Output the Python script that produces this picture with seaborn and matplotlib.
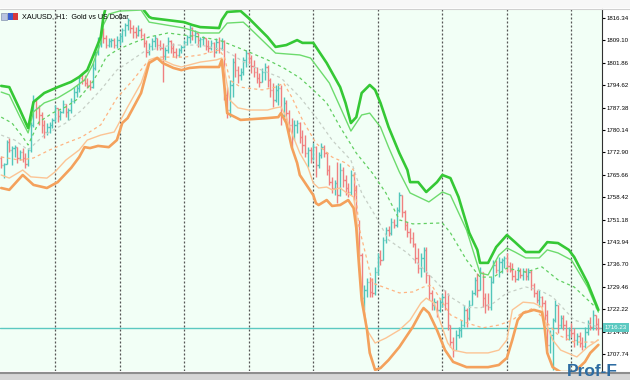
import numpy as np
import matplotlib
matplotlib.use("Agg")
import matplotlib.pyplot as plt
import seaborn as sns
from matplotlib.patches import Rectangle
from matplotlib.lines import Line2D

# ---------------- data ----------------
title = "XAUUSD, H1:  Gold vs US Dollar"
first_open = 1771.1
highs = [
    1771.7, 1769.5, 1776.9, 1777.6, 1775.0, 1775.3, 1774.6, 1773.7, 1774.3, 1772.7,
    1774.3, 1782.7, 1791.5, 1789.8, 1788.2, 1786.0, 1783.4, 1782.4, 1782.7, 1784.0,
    1788.2, 1787.3, 1786.6, 1789.8, 1788.6, 1787.3, 1790.5, 1794.0, 1794.7, 1797.6,
    1798.6, 1797.9, 1797.0, 1796.3, 1801.8, 1806.0, 1810.2, 1812.5, 1813.1, 1810.8,
    1809.9, 1809.9, 1809.9, 1810.5, 1811.5, 1813.1, 1814.7, 1816.3, 1815.7, 1814.1,
    1813.4, 1814.1, 1813.1, 1811.5, 1809.2, 1808.3, 1809.9, 1810.8, 1809.9, 1809.2,
    1808.3, 1807.0, 1810.2, 1809.2, 1808.3, 1806.6, 1806.6, 1807.6, 1809.2, 1810.8,
    1814.1, 1813.4, 1812.5, 1811.5, 1810.2, 1810.5, 1809.9, 1809.2, 1809.2, 1808.6,
    1809.9, 1810.2, 1809.9, 1809.2, 1794.0, 1796.3, 1803.4, 1805.0, 1800.8, 1800.2,
    1803.7, 1806.0, 1805.4, 1804.4, 1802.8, 1800.5, 1798.6, 1800.2, 1801.8, 1801.2,
    1797.0, 1795.3, 1794.7, 1795.3, 1794.7, 1790.8, 1789.8, 1786.6, 1784.0, 1783.4,
    1783.4, 1782.7, 1780.1, 1778.5, 1774.6, 1774.6, 1775.9, 1775.0, 1773.0, 1775.9,
    1775.3, 1773.0, 1768.8, 1765.0, 1764.0, 1769.8, 1769.5, 1768.2, 1765.6, 1763.0,
    1767.2, 1766.6, 1762.4, 1751.1, 1740.4, 1730.0, 1732.3, 1732.6, 1732.3, 1735.9,
    1740.4, 1741.4, 1745.6, 1748.8, 1749.1, 1751.7, 1751.4, 1755.3, 1760.1, 1759.1,
    1754.3, 1750.4, 1748.5, 1747.2, 1743.6, 1742.0, 1740.4, 1742.3, 1742.3, 1733.3,
    1728.4, 1725.8, 1725.2, 1725.8, 1727.1, 1728.4, 1727.5, 1717.1, 1713.2, 1715.5,
    1716.5, 1718.7, 1723.6, 1722.6, 1725.2, 1728.4, 1732.6, 1733.9, 1735.9, 1734.2,
    1727.5, 1727.5, 1732.6, 1738.1, 1738.1, 1739.1, 1738.8, 1739.4, 1740.4, 1737.5,
    1737.2, 1734.9, 1735.9, 1735.5, 1735.5, 1735.5, 1735.5, 1734.9, 1730.7, 1728.4,
    1728.4, 1726.5, 1725.2, 1722.0, 1715.5, 1719.4, 1725.2, 1723.6, 1720.4, 1720.4,
    1718.7, 1716.5, 1717.8, 1716.2, 1714.5, 1714.9, 1713.2, 1716.5, 1718.7, 1719.7,
    1722.0, 1720.4, 1719.4]
lows = [
    1767.9, 1764.6, 1769.2, 1773.0, 1768.8, 1771.4, 1769.5, 1770.4, 1769.8, 1767.9,
    1768.5, 1773.0, 1781.1, 1784.0, 1781.8, 1779.2, 1777.6, 1778.5, 1779.2, 1780.8,
    1782.7, 1782.7, 1783.4, 1785.6, 1784.3, 1783.4, 1785.6, 1788.9, 1790.8, 1792.4,
    1795.0, 1794.4, 1793.7, 1793.1, 1793.7, 1799.5, 1804.4, 1807.0, 1808.3, 1806.6,
    1807.0, 1807.0, 1806.6, 1806.6, 1807.6, 1808.6, 1810.5, 1812.5, 1811.5, 1809.9,
    1809.9, 1810.5, 1809.9, 1807.0, 1803.7, 1804.4, 1806.0, 1807.0, 1806.0, 1806.0,
    1795.7, 1802.8, 1805.0, 1805.0, 1803.7, 1803.4, 1803.7, 1805.0, 1806.6, 1807.6,
    1808.3, 1809.2, 1808.3, 1807.0, 1807.0, 1807.6, 1806.0, 1805.4, 1806.0, 1803.7,
    1805.0, 1805.0, 1806.0, 1789.8, 1784.0, 1784.3, 1790.8, 1797.3, 1795.3, 1796.3,
    1797.9, 1800.5, 1801.8, 1798.6, 1797.3, 1795.3, 1794.0, 1795.7, 1796.3, 1794.0,
    1790.8, 1787.6, 1789.2, 1788.2, 1781.8, 1784.3, 1783.4, 1779.5, 1774.6, 1776.9,
    1779.2, 1775.9, 1772.7, 1771.4, 1768.2, 1769.5, 1770.4, 1765.0, 1767.9, 1771.1,
    1771.4, 1765.6, 1762.4, 1759.8, 1759.1, 1756.5, 1758.8, 1761.7, 1759.1, 1758.5,
    1759.1, 1757.5, 1747.8, 1738.1, 1723.6, 1722.0, 1726.2, 1726.2, 1726.2, 1726.8,
    1733.3, 1736.5, 1738.1, 1743.6, 1745.9, 1746.2, 1748.5, 1748.8, 1753.6, 1752.0,
    1747.8, 1745.6, 1743.6, 1742.3, 1737.2, 1733.9, 1732.6, 1734.2, 1730.7, 1725.2,
    1722.0, 1722.0, 1719.7, 1721.3, 1722.9, 1722.0, 1715.5, 1710.0, 1706.8, 1709.0,
    1712.9, 1713.2, 1716.5, 1716.5, 1718.7, 1723.6, 1726.8, 1726.2, 1728.4, 1722.9,
    1721.0, 1722.0, 1722.0, 1730.7, 1733.9, 1732.6, 1733.9, 1735.5, 1734.2, 1734.2,
    1731.7, 1731.0, 1731.7, 1732.3, 1731.7, 1731.7, 1731.7, 1728.4, 1726.2, 1724.2,
    1722.9, 1722.9, 1718.7, 1709.0, 1708.1, 1702.6, 1718.1, 1714.5, 1716.2, 1715.5,
    1712.3, 1712.3, 1713.2, 1710.0, 1710.7, 1710.0, 1709.0, 1709.7, 1713.9, 1715.5,
    1715.5, 1715.5, 1713.9]
closes = [
    1768.8, 1769.2, 1776.3, 1773.7, 1774.3, 1774.6, 1771.1, 1773.0, 1771.1, 1769.2,
    1773.7, 1781.8, 1789.8, 1787.3, 1785.0, 1781.8, 1779.5, 1781.1, 1781.8, 1783.4,
    1787.3, 1784.7, 1786.0, 1788.6, 1786.0, 1786.6, 1789.5, 1792.4, 1793.7, 1797.0,
    1796.3, 1795.3, 1794.7, 1794.0, 1800.2, 1805.4, 1809.2, 1811.8, 1809.9, 1807.6,
    1808.9, 1809.2, 1807.6, 1809.2, 1810.5, 1812.5, 1814.1, 1815.7, 1813.1, 1811.8,
    1810.8, 1812.5, 1810.8, 1808.3, 1805.4, 1807.3, 1808.9, 1809.9, 1807.6, 1806.6,
    1804.1, 1806.0, 1808.9, 1806.6, 1805.4, 1804.4, 1806.0, 1807.0, 1808.6, 1810.2,
    1813.1, 1810.8, 1811.5, 1809.2, 1809.6, 1809.9, 1807.3, 1806.6, 1808.3, 1805.4,
    1808.6, 1806.6, 1808.9, 1791.5, 1786.6, 1794.7, 1802.1, 1799.5, 1797.9, 1798.9,
    1802.8, 1805.0, 1803.4, 1800.8, 1798.9, 1797.0, 1795.7, 1798.9, 1800.5, 1796.3,
    1793.1, 1789.8, 1793.1, 1793.7, 1785.0, 1788.9, 1785.6, 1781.8, 1777.6, 1781.8,
    1782.4, 1777.9, 1775.3, 1772.7, 1773.7, 1771.1, 1774.6, 1768.8, 1772.1, 1774.6,
    1772.7, 1767.2, 1763.3, 1761.4, 1763.0, 1759.1, 1767.2, 1764.0, 1761.4, 1760.1,
    1765.6, 1760.8, 1749.4, 1739.7, 1725.8, 1728.4, 1731.0, 1727.8, 1727.5, 1734.2,
    1739.1, 1738.1, 1744.6, 1747.8, 1746.9, 1750.4, 1749.4, 1754.3, 1759.1, 1753.6,
    1749.4, 1747.2, 1745.2, 1743.3, 1738.8, 1735.5, 1738.8, 1741.4, 1733.3, 1727.5,
    1723.6, 1724.5, 1722.0, 1724.5, 1726.2, 1724.2, 1717.1, 1711.6, 1709.0, 1713.9,
    1715.5, 1717.1, 1722.0, 1719.4, 1723.6, 1727.5, 1731.7, 1728.4, 1734.2, 1725.8,
    1723.6, 1722.9, 1731.0, 1736.5, 1734.9, 1737.5, 1738.1, 1738.8, 1736.2, 1734.9,
    1733.0, 1732.0, 1734.6, 1733.3, 1734.6, 1733.0, 1734.2, 1730.0, 1727.5, 1725.2,
    1726.2, 1724.2, 1720.4, 1710.7, 1713.9, 1718.7, 1723.6, 1717.1, 1719.4, 1717.1,
    1713.9, 1715.5, 1714.5, 1712.3, 1713.6, 1711.3, 1710.3, 1714.9, 1717.8, 1716.5,
    1720.4, 1717.4, 1716.23]

# band lines (bar index, price)
upper_outer_x = [0, 3, 7, 10, 12, 16, 21, 26, 29, 32, 34, 37, 38, 40, 46, 52, 53, 55, 56, 68,
                 71, 74, 81, 82, 84, 89, 92, 99, 102, 106, 110, 112, 116, 121, 126, 128, 130, 132, 134, 137,
                 139, 141, 144, 148, 151, 152, 155, 158, 162, 164, 167, 170, 174, 177, 178, 181, 184, 188, 191, 195,
                 200, 203, 207, 211, 213, 218, 222]
upper_outer_y = [1794.4, 1794.0, 1786.6, 1780.8, 1789.2, 1792.1, 1794.0, 1795.7, 1797.3, 1799.5,
                 1803.7, 1810.2, 1816.7, 1823.8, 1826.0, 1822.2, 1818.9, 1816.7, 1816.3, 1815.0,
                 1814.1, 1813.4, 1813.1, 1815.7, 1818.3, 1818.6, 1816.3, 1810.2, 1807.0, 1807.6,
                 1809.2, 1808.3, 1808.3, 1801.8, 1794.0, 1788.9, 1782.4, 1784.3, 1792.1, 1794.7,
                 1793.1, 1788.9, 1781.1, 1772.7, 1767.2, 1763.3, 1763.3, 1760.1, 1763.3, 1765.6,
                 1764.6, 1758.5, 1746.9, 1741.4, 1737.2, 1737.2, 1742.3, 1746.2, 1743.9, 1740.7,
                 1740.7, 1743.9, 1743.6, 1741.4, 1739.1, 1730.7, 1722.0]
upper_inner_x = [0, 3, 7, 10, 12, 16, 21, 26, 31, 34, 37, 38, 40, 44, 52, 55, 68, 74, 81, 84,
                 90, 92, 102, 111, 115, 122, 126, 130, 134, 137, 141, 144, 148, 152, 159, 164, 167, 173, 178, 181,
                 185, 188, 191, 195, 200, 203, 207, 212, 218, 222]
upper_inner_y = [1792.4, 1791.5, 1784.3, 1779.2, 1786.0, 1788.9, 1790.5, 1793.1, 1796.3, 1801.2,
                 1808.3, 1814.1, 1817.6, 1818.6, 1818.9, 1815.0, 1813.1, 1811.5, 1811.5, 1814.7,
                 1815.0, 1813.4, 1805.0, 1804.4, 1803.4, 1795.3, 1787.6, 1779.8, 1785.0, 1785.6,
                 1781.1, 1774.6, 1766.6, 1759.8, 1756.9, 1760.1, 1759.1, 1747.8, 1733.9, 1733.3,
                 1739.7, 1742.0, 1740.7, 1738.8, 1738.8, 1741.4, 1740.4, 1738.1, 1729.4, 1721.3]
upper_dash_x = [0, 4, 8, 10, 14, 19, 24, 29, 34, 37, 39, 43, 49, 55, 62, 68, 74, 81, 92, 99,
                105, 111, 116, 121, 126, 132, 138, 143, 148, 153, 164, 167, 173, 178, 183, 188, 195, 201, 207, 213,
                222]
upper_dash_y = [1784.3, 1782.4, 1777.9, 1775.3, 1782.7, 1785.6, 1787.6, 1790.5, 1795.7, 1800.2,
                1803.7, 1806.0, 1808.3, 1810.2, 1811.5, 1810.8, 1810.2, 1809.2, 1805.4, 1802.8,
                1800.2, 1797.0, 1793.1, 1788.9, 1781.1, 1772.7, 1766.2, 1759.8, 1751.1, 1749.8,
                1750.1, 1746.9, 1738.1, 1732.6, 1732.6, 1735.5, 1734.2, 1735.9, 1731.7, 1729.4,
                1722.0]
middle_x = [0, 5, 10, 16, 24, 30, 37, 43, 53, 63, 74, 83, 92, 104, 111, 117, 123, 130, 134, 140,
            144, 151, 160, 167, 173, 178, 183, 188, 195, 200, 205, 213, 222]
middle_y = [1778.5, 1776.9, 1773.7, 1778.5, 1782.4, 1786.6, 1793.1, 1799.5, 1805.4, 1807.6,
            1807.6, 1806.0, 1801.2, 1797.0, 1790.8, 1784.3, 1776.9, 1770.4, 1759.8, 1751.1,
            1744.6, 1740.4, 1732.6, 1726.2, 1722.9, 1722.6, 1724.2, 1727.5, 1729.4, 1728.4,
            1726.2, 1718.7, 1716.5]
lower_dash_x = [0, 7, 12, 18, 24, 30, 37, 43, 49, 54, 59, 68, 74, 81, 83, 85, 89, 97, 102, 105,
                108, 112, 117, 123, 128, 131, 133, 136, 138, 142, 148, 153, 157, 160, 167, 173, 179, 185, 190, 194,
                198, 201, 207, 213, 220, 222]
lower_dash_y = [1771.4, 1770.4, 1771.1, 1773.7, 1775.9, 1777.9, 1781.8, 1790.5, 1796.3, 1801.8,
                1803.7, 1803.7, 1804.4, 1806.0, 1803.7, 1796.3, 1794.0, 1793.1, 1794.0, 1795.3,
                1790.8, 1783.4, 1775.9, 1771.4, 1769.5, 1767.2, 1748.8, 1738.1, 1730.7, 1729.4,
                1727.5, 1727.8, 1729.4, 1730.0, 1720.4, 1717.8, 1716.2, 1717.1, 1718.7, 1721.3,
                1722.6, 1719.7, 1713.9, 1711.6, 1711.6, 1712.3]
lower_inner_x = [0, 3, 8, 11, 17, 20, 24, 29, 32, 37, 42, 43, 47, 52, 55, 58, 60, 64, 67, 70,
                 74, 80, 82, 83, 85, 88, 92, 99, 102, 104, 106, 108, 111, 114, 116, 118, 121, 123, 126, 128,
                 131, 132, 133, 134, 136, 139, 143, 148, 152, 156, 158, 161, 163, 166, 168, 173, 181, 185, 188, 190,
                 194, 198, 201, 202, 205, 208, 214, 218, 222]
lower_inner_y = [1765.6, 1764.6, 1767.2, 1765.0, 1764.6, 1766.6, 1770.4, 1773.7, 1776.9, 1778.5,
                 1779.5, 1781.1, 1787.6, 1795.3, 1802.8, 1803.7, 1802.8, 1801.2, 1800.5, 1801.2,
                 1802.1, 1802.8, 1803.4, 1799.5, 1789.8, 1787.3, 1786.6, 1786.6, 1787.3, 1787.6,
                 1784.3, 1779.2, 1772.7, 1768.2, 1763.0, 1761.4, 1761.7, 1760.8, 1761.4, 1760.1,
                 1758.5, 1752.7, 1740.4, 1728.4, 1715.5, 1711.3, 1712.9, 1715.5, 1718.7, 1724.2,
                 1725.8, 1724.2, 1718.7, 1711.3, 1709.0, 1708.1, 1708.1, 1709.0, 1712.3, 1722.0,
                 1724.5, 1724.2, 1722.9, 1718.7, 1712.3, 1709.0, 1706.8, 1710.0, 1712.3]
lower_outer_x = [0, 3, 8, 12, 17, 21, 26, 29, 31, 33, 36, 40, 43, 45, 47, 52, 55, 58, 60, 64,
                 67, 70, 74, 81, 82, 83, 84, 89, 99, 103, 104, 106, 108, 110, 111, 114, 116, 117, 118, 121,
                 123, 126, 129, 131, 132, 133, 134, 136, 137, 139, 141, 144, 148, 153, 156, 157, 159, 162, 165, 168,
                 173, 181, 185, 188, 190, 192, 194, 198, 201, 202, 203, 205, 208, 213, 217, 219, 222]
lower_outer_y = [1761.4, 1760.8, 1765.6, 1762.4, 1761.4, 1763.3, 1767.9, 1771.4, 1774.6, 1774.3,
                 1775.0, 1774.6, 1776.9, 1782.4, 1784.0, 1792.1, 1801.8, 1803.4, 1801.8, 1800.2,
                 1799.5, 1800.2, 1800.5, 1800.5, 1802.8, 1794.0, 1785.6, 1783.4, 1784.0, 1784.3,
                 1785.6, 1782.4, 1774.6, 1769.5, 1765.6, 1761.7, 1759.1, 1756.5, 1755.9, 1757.5,
                 1755.6, 1755.9, 1757.5, 1754.9, 1748.5, 1736.5, 1725.2, 1715.5, 1708.1, 1702.6,
                 1703.2, 1705.8, 1710.0, 1716.5, 1721.3, 1722.6, 1721.0, 1715.5, 1709.0, 1705.2,
                 1703.5, 1703.5, 1704.2, 1706.5, 1712.3, 1718.7, 1721.0, 1722.0, 1721.3, 1716.5,
                 1708.1, 1703.5, 1701.9, 1701.9, 1705.2, 1708.1, 1710.7]

day_starts = [20, 44, 68, 92, 116, 140, 164, 188, 212]
y_ticks = [1816.34, 1809.10, 1801.86, 1794.62, 1787.38, 1780.14, 1772.90, 1765.66,
           1758.42, 1751.18, 1743.94, 1736.70, 1729.46, 1722.22, 1714.98, 1707.74]
current_price = 1716.23

# ---------------- style ----------------
sns.set_style("white")
plt.rcParams['font.family'] = ['Liberation Sans', 'DejaVu Sans']

W, H = 630, 380
def fx(px):
    return px / W
def fy(py):
    return 1 - py / H

fig = plt.figure(figsize=(6.3, 3.8), dpi=100)
fig.patch.set_facecolor('white')
ax = fig.add_axes([0, fy(371), fx(602), (371 - 9) / H])
ax.set_facecolor('#F2FFF6')

teal = '#52C6BA'
red = '#F08080'

n = len(closes)
idx = np.arange(n)
c = np.array(closes)
o = np.array([first_open] + closes[:-1])
h = np.maximum(np.array(highs), np.maximum(o, c))
l = np.minimum(np.array(lows), np.minimum(o, c))
cols = np.where(c >= o, teal, red)

# day separators & current price line
for d in day_starts:
    ax.axvline(d, color='#555555', lw=0.9, linestyle=(0, (1.6, 1.6)), zorder=1)
ax.axhline(current_price, color='#5CC9C1', lw=1.0, zorder=1.2)

# OHLC bars
ax.vlines(idx, l, h, colors=cols, lw=1.0, zorder=2)
ax.hlines(o, idx - 0.45, idx, colors=cols, lw=1.0, zorder=2)
ax.hlines(c, idx, idx + 0.45, colors=cols, lw=1.0, zorder=2)

# band lines via seaborn
specs = [
    (middle_x, middle_y, '#C6CFC6', 0.9, (0, (2.5, 2.5))),
    (upper_dash_x, upper_dash_y, '#62CF62', 0.9, (0, (2.5, 2.5))),
    (lower_dash_x, lower_dash_y, '#FFB482', 0.9, (0, (2.5, 2.5))),
    (upper_inner_x, upper_inner_y, '#6DDB6D', 1.0, '-'),
    (lower_inner_x, lower_inner_y, '#FCC494', 1.0, '-'),
    (upper_outer_x, upper_outer_y, '#35C835', 1.9, '-'),
    (lower_outer_x, lower_outer_y, '#F4A15C', 1.9, '-'),
]
for xs, ys, col, lw, ls in specs:
    sns.lineplot(x=xs, y=ys, ax=ax, color=col, linewidth=lw, linestyle=ls,
                 estimator=None, sort=False, legend=False, zorder=3)

ax.set_xlim(-0.45, (602 - 1.2) / 2.69)
ax.set_ylim(1822.16 - 0.3232 * 371, 1822.16 - 0.3232 * 9)
ax.set_xlabel('')
ax.set_ylabel('')
ax.set_xticks([])
ax.yaxis.tick_right()
ax.set_yticks(y_ticks)
ax.set_yticklabels([f"{v:.2f}" for v in y_ticks])
ax.tick_params(axis='y', direction='out', length=2.5, width=0.8, pad=1.0,
               labelsize=4.4, colors='#000000', right=True, left=False)
for s in ['left', 'top', 'bottom']:
    ax.spines[s].set_visible(False)
ax.spines['right'].set_color('#303030')
ax.spines['right'].set_linewidth(0.8)

# current price label
ax.text(1.0 + 3 / 602, current_price, f"{current_price:.2f}",
        transform=ax.get_yaxis_transform(), ha='left', va='center', fontsize=4.4,
        color='white', zorder=10, clip_on=False,
        bbox=dict(boxstyle='square,pad=0.35', fc='#5CC9C1', ec='none'))

# frame bands
fig.add_artist(Rectangle((0, fy(8)), 1, 8 / H, transform=fig.transFigure,
                         facecolor='#F7F7F7', edgecolor='none', zorder=0))
fig.add_artist(Line2D([0, 1], [fy(8.5), fy(8.5)], transform=fig.transFigure,
                      color='#D0D0D0', lw=0.8))
fig.add_artist(Rectangle((0, 0), 1, (H - 372) / H, transform=fig.transFigure,
                         facecolor='#D6D6D6', edgecolor='none', zorder=5))
fig.add_artist(Line2D([0, 1], [fy(372.5), fy(372.5)], transform=fig.transFigure,
                      color='#8E8E8E', lw=1.5, zorder=6))

# title and small icon
fig.add_artist(Rectangle((fx(1), fy(20)), fx(6), 7 / H, transform=fig.transFigure,
                         facecolor='#B8C4E0', edgecolor='#7080A0', lw=0.4, zorder=6))
fig.add_artist(Rectangle((fx(8), fy(20)), fx(5), 7 / H, transform=fig.transFigure,
                         facecolor='#3A5FCD', edgecolor='none', zorder=6))
fig.add_artist(Rectangle((fx(13), fy(20)), fx(5), 7 / H, transform=fig.transFigure,
                         facecolor='#D83A3A', edgecolor='none', zorder=6))
fig.text(fx(22), fy(16.5), title, fontsize=5.2, va='center', ha='left', color='black', zorder=7)

# watermark
fig.text(fx(567), fy(376), "Prof-F", fontsize=12.5, fontweight='bold', color='#2D6CA2',
         ha='left', va='baseline', zorder=8)

fig.savefig("out.png", dpi=100)
